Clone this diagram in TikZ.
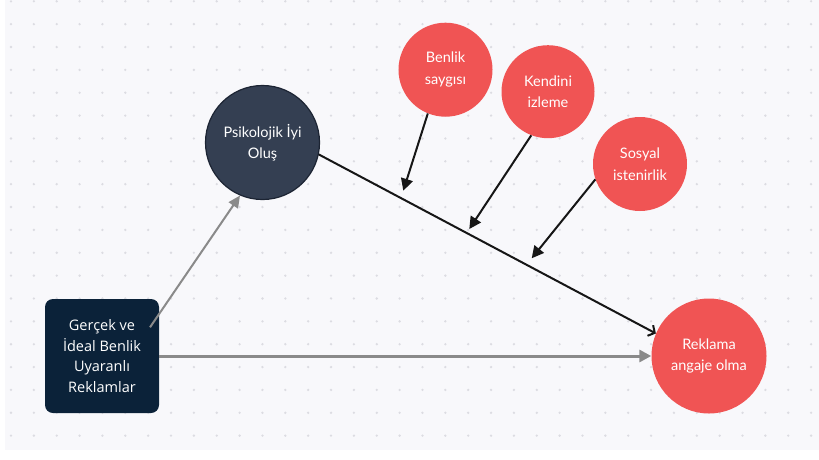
\documentclass[tikz,border=0pt]{standalone}
\usepackage{fontspec}
\usetikzlibrary{arrows.meta}
\newfontfamily\latofont{Lato}
\newfontfamily\opensansfont{Open Sans}
\definecolor{canvasbg}{HTML}{F8F8FB}
\definecolor{dotgrey}{HTML}{DCDCE2}
\definecolor{navybox}{HTML}{0B2239}
\definecolor{slatefill}{HTML}{343F52}
\definecolor{slateedge}{HTML}{1C2433}
\definecolor{coral}{HTML}{F05454}
\definecolor{linkgrey}{HTML}{8A8A8A}
\definecolor{linkblack}{HTML}{161616}
\tikzset{
  sourcebox/.style={rectangle, rounded corners=8pt, fill=navybox, text=white,
    minimum width=114pt, minimum height=114pt, align=center,
    font=\opensansfont\fontsize{14.5}{20.7}\selectfont},
  darkcircle/.style={circle, fill=slatefill, draw=slateedge, line width=1.2pt,
    minimum size=114pt, text=white, align=center, inner sep=0pt,
    font=\latofont\fontsize{14.5}{21}\selectfont},
  redcircle/.style={circle, fill=coral, text=white, align=center, inner sep=0pt,
    font=\latofont\fontsize{14.5}{21.5}\selectfont},
  greylink/.style={draw=linkgrey, line width=2pt,
    -{Triangle[length=12pt,width=11pt]}},
  greybar/.style={draw=linkgrey, line width=3pt,
    -{Triangle[length=12pt,width=12pt]}},
  moderator/.style={draw=linkblack, line width=2pt,
    -{Triangle[length=12pt,width=12pt]}},
  mainpath/.style={draw=linkblack, line width=2pt,
    -{Straight Barb[length=5pt,width=12pt]}},
}
\begin{document}
\begin{tikzpicture}[x=1pt,y=-1pt]
  \useasboundingbox (0,0) rectangle (819,459);
  \fill[white] (0,0) rectangle (819,459);
  \fill[canvasbg] (5,0) rectangle (819,450);
  % dotted grid
  \foreach \i in {0,...,35}{
    \foreach \j in {0,...,19}{
      \fill[dotgrey] (11+22.86*\i, 1.3+22.86*\j) circle (1.3pt);
    }
  }

  % nodes
  \node[sourcebox] (box) at (102,356) {Gerçek ve\\İdeal Benlik\\Uyaranlı\\Reklamlar};
  \node[darkcircle] (psik) at (262.5,142.5) {Psikolojik İyi\\Oluş};
  \node[redcircle, minimum size=94pt] (benlik) at (445.5,69.7) {Benlik\\saygısı};
  \node[redcircle, minimum size=93pt] (kendini) at (548,91.7) {Kendini\\izleme};
  \node[redcircle, minimum size=94pt] (sosyal) at (640,164) {Sosyal\\istenirlik};
  \node[redcircle, minimum size=115pt] (reklama) at (709,356) {Reklama\\angaje olma};

  % connector end points
  \coordinate (gstart) at (150,327.3);
  \coordinate (tipA) at (403.3,190.7);
  \coordinate (tipB) at (469.3,229);
  \coordinate (tipC) at (531.7,258.3);

  % connectors
  \draw[greybar] (box.east) -- (reklama.west);
  \draw[greylink] (gstart) -- (psik.247);
  \draw[mainpath] (psik.-12) -- (reklama.157);
  \draw[moderator] (benlik.248) -- (tipA);
  \draw[moderator] (kendini.249) -- (tipB);
  \draw[moderator] (sosyal.199) -- (tipC);
\end{tikzpicture}
\end{document}
